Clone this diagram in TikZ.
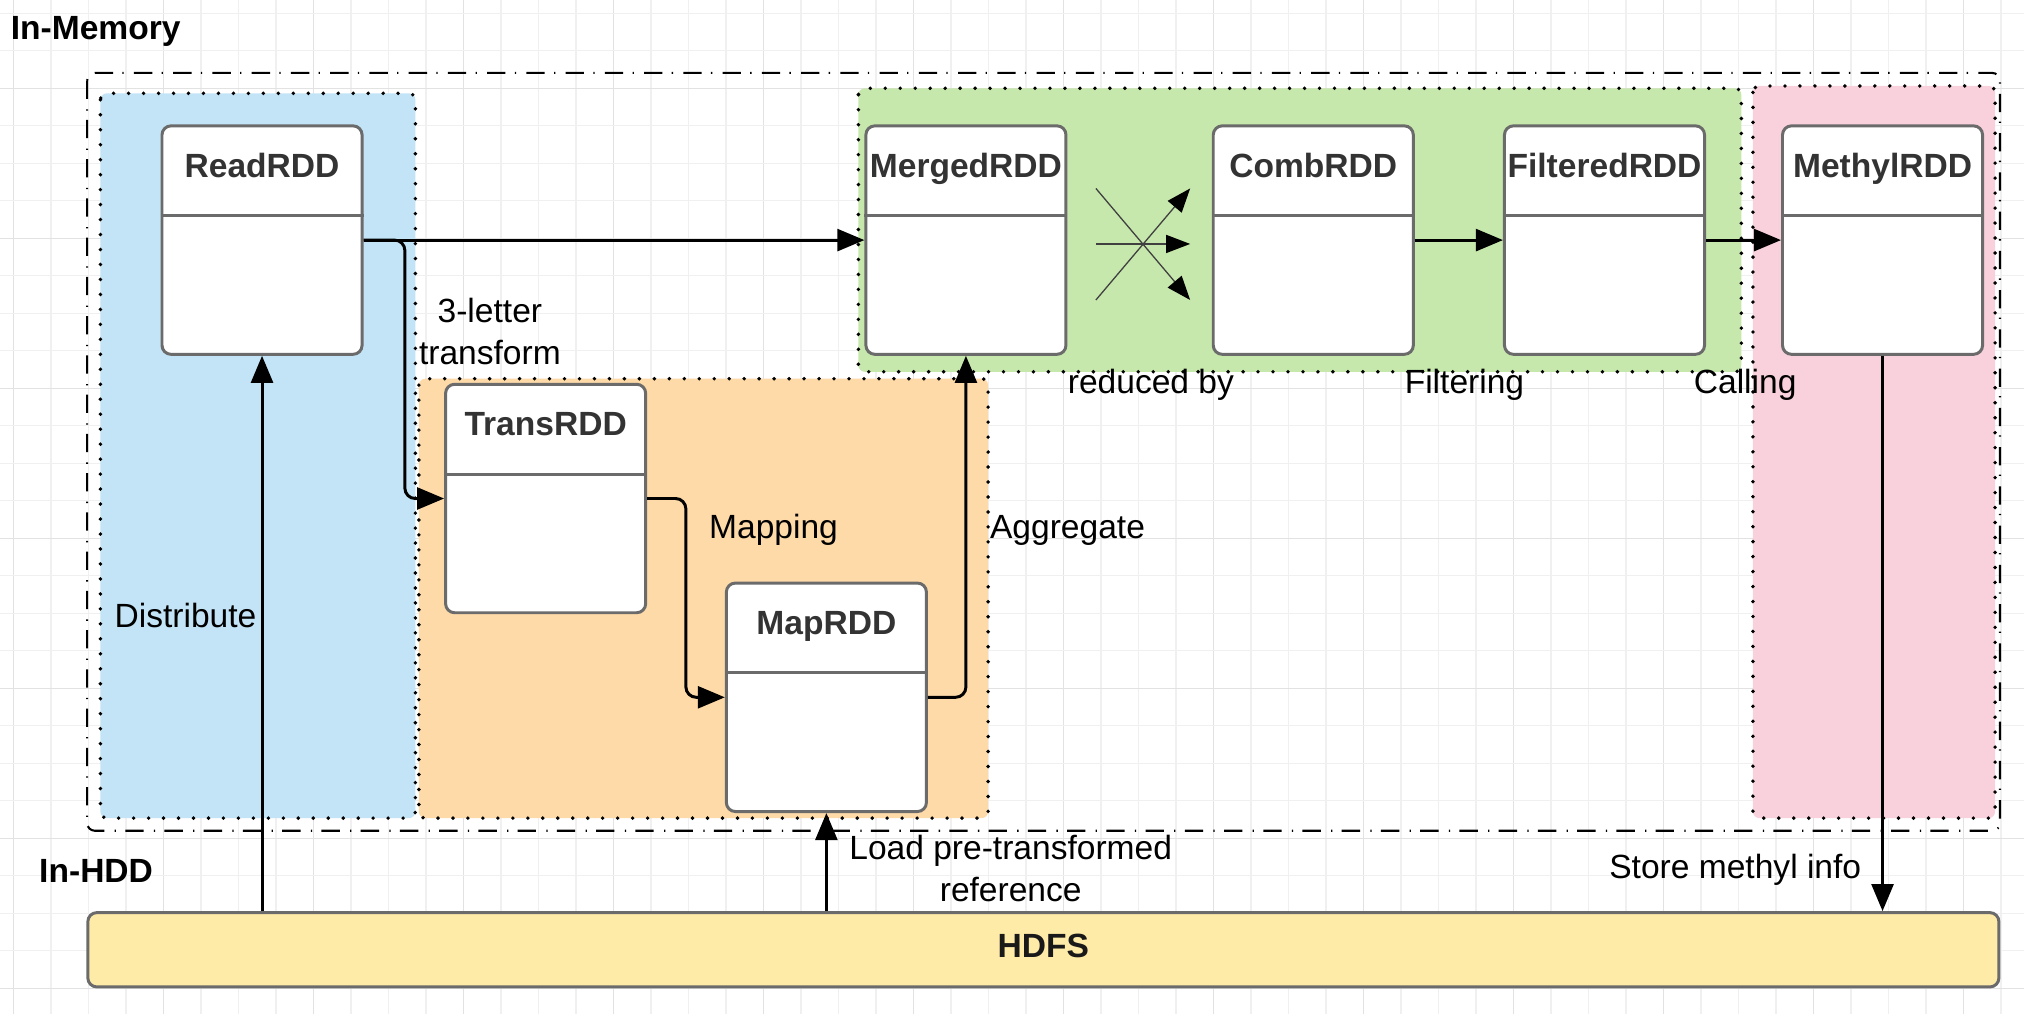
\documentclass[tikz,border=0pt]{standalone}
\usepackage{fontspec}
\setmainfont{Liberation Sans}
\usetikzlibrary{arrows.meta,calc}
\definecolor{boxgray}{HTML}{6B6B6B}
\definecolor{titlegray}{HTML}{333333}
\definecolor{bluefill}{RGB}{194,228,246}
\definecolor{orangefill}{RGB}{254,218,168}
\definecolor{greenfill}{RGB}{199,232,172}
\definecolor{pinkfill}{RGB}{248,209,220}
\definecolor{hdfsfill}{RGB}{255,235,168}
\definecolor{gridmin}{HTML}{F0F0F0}
\definecolor{gridmaj}{HTML}{E2E2E2}
\tikzset{
  rdd/.style={draw=boxgray, line width=1.15pt, fill=white, rounded corners=3.5pt,
    minimum width=77.5pt, minimum height=88.5pt, inner sep=0pt},
  sepline/.style={draw=boxgray, line width=1.15pt},
  ttl/.style={font=\fontsize{13}{16}\selectfont\bfseries, text=titlegray, inner sep=0pt, anchor=base},
  lbl/.style={font=\fontsize{13}{16}\selectfont, text=black, inner sep=0pt},
  hdr/.style={font=\fontsize{13}{16}\selectfont\bfseries, text=black, inner sep=0pt},
  conn/.style={line width=1.15pt, -{Triangle[length=10.5pt,width=8.5pt]}, rounded corners=4pt},
  shuf/.style={line width=0.5pt, draw=black!75, -{Triangle[length=9.3pt,width=7pt,color=black]}},
  region/.style={rounded corners=2.5pt, draw=black, line width=1.5pt,
    dash pattern=on 0pt off 5.8pt, line cap=round},
  dashdot/.style={draw=black, line width=0.8pt,
    dash pattern=on 7.1pt off 4pt on 0.5pt off 3.6pt, rounded corners=3pt},
}
\newcommand\rddbox[4]{% name, x, y, title
  \node[rdd] (#1) at (#2,#3) {};
  \draw[sepline] ($(#1.north west)+(0,70.7)$) -- ($(#1.north east)+(0,70.7)$);
  \node[ttl] (#1T) at ($(#1.north)+(0,41)$) {#4};
}
\begin{document}
\begin{tikzpicture}[x=0.5pt,y=-0.5pt]
\useasboundingbox (0,0) rectangle (1568,785.6);
\fill[white] (0,0) rectangle (1568,785.6);
% grid
\foreach \k in {0,...,53}{
  \pgfmathsetmacro\gx{10.5+29.05*\k}
  \pgfmathtruncatemacro\m{mod(\k,4)}
  \ifnum\m=0 \draw[gridmaj,line width=0.5pt] (\gx,0) -- (\gx,785.6);
  \else \draw[gridmin,line width=0.5pt] (\gx,0) -- (\gx,785.6); \fi
}
\foreach \k in {0,...,26}{
  \pgfmathsetmacro\gy{10.3+29.05*\k}
  \pgfmathtruncatemacro\m{mod(\k,4)}
  \ifnum\m=2 \draw[gridmaj,line width=0.5pt] (0,\gy) -- (1568,\gy);
  \else \draw[gridmin,line width=0.5pt] (0,\gy) -- (1568,\gy); \fi
}
% outer in-memory frame
\draw[dashdot] (67.5,56.5) rectangle (1549.4,643.6);
% regions
\fill[bluefill, rounded corners=2.5pt] (77.8,72.3) rectangle (321.8,633.8);
\draw[region] (77.8,72.3) rectangle (321.8,633.8);
\fill[orangefill, rounded corners=2.5pt] (324.5,293.4) rectangle (765.5,633.8);
\draw[region] (324.5,293.4) rectangle (765.5,633.8);
\fill[greenfill, rounded corners=2.5pt] (665,68.4) rectangle (1349,288);
\draw[region] (665,68.4) rectangle (1349,288);
\fill[pinkfill, rounded corners=2.5pt] (1358,66.6) rectangle (1545.6,633.8);
\draw[region] (1358,66.6) rectangle (1545.6,633.8);
% header labels
\node[hdr, anchor=base west] (inmem) at (8,30.5) {In-Memory};
\node[hdr, anchor=base west] (inhdd) at (30,683.3) {In-HDD};
% RDD boxes
\rddbox{read}{203}{186}{ReadRDD}
\rddbox{merged}{748.3}{186}{MergedRDD}
\rddbox{comb}{1017.4}{186}{CombRDD}
\rddbox{filt}{1243}{186}{FilteredRDD}
\rddbox{methyl}{1458.4}{186}{MethylRDD}
\rddbox{trans}{422.7}{386.2}{TransRDD}
\rddbox{map}{640.2}{540.2}{MapRDD}
% HDFS
\node[draw=boxgray, line width=1.15pt, fill=hdfsfill, rounded corners=3.5pt,
  minimum width=740.25pt, minimum height=28.8pt, inner sep=0pt] (hdfs) at (808.3,735.8) {};
\node[ttl, text=black!90] (hdfsT) at (808.3,742) {HDFS};
% connectors
\draw[conn] (hdfs.north -| read.south) -- (read.south);
\draw[conn] (read.east) -- (merged.west);
\draw[conn] (read.east) -- ++(32,0) |- (trans.west);
\draw[conn] (trans.east) -- ++(30,0) |- (map.west);
\draw[conn] (map.east) -| (merged.south);
\draw[conn] (hdfs.north -| map.south) -- (map.south);
\draw[conn] (comb.east) -- (filt.west);
\draw[conn] (filt.east) -- (methyl.west);
\draw[conn] (methyl.south) -- (hdfs.north -| methyl.south);
% shuffle symbol
\coordinate (sa) at (849,146);
\coordinate (sb) at (922,232.4);
\coordinate (sc) at (849,232.4);
\coordinate (sd) at (922,146);
\coordinate (se) at (849,189);
\coordinate (sf) at (922,189);
\draw[shuf] (sa) -- (sb);
\draw[shuf] (sc) -- (sd);
\draw[shuf] (se) -- (sf);
% labels
\node[lbl, anchor=base east] (ldist) at (199,486.5) {Distribute};
\node[lbl, anchor=base] (l3a) at (379.5,250) {3-letter};
\node[lbl, anchor=base] (l3b) at (379.5,282) {transform};
\node[lbl, anchor=base west] (lmap) at (549,417) {Mapping};
\node[lbl, anchor=base west] (lagg) at (766.6,417) {Aggregate};
\node[lbl, anchor=base] (lred) at (891.6,304.6) {reduced by};
\node[lbl, anchor=base] (lfil) at (1134.5,304.6) {Filtering};
\node[lbl, anchor=base] (lcal) at (1352,304.6) {Calling};
\node[lbl, anchor=base] (lload) at (783,666) {Load pre-transformed};
\node[lbl, anchor=base] (lref) at (783,698.5) {reference};
\node[lbl, anchor=base] (lstore) at (1344.3,680.8) {Store methyl info};
\end{tikzpicture}
\end{document}
